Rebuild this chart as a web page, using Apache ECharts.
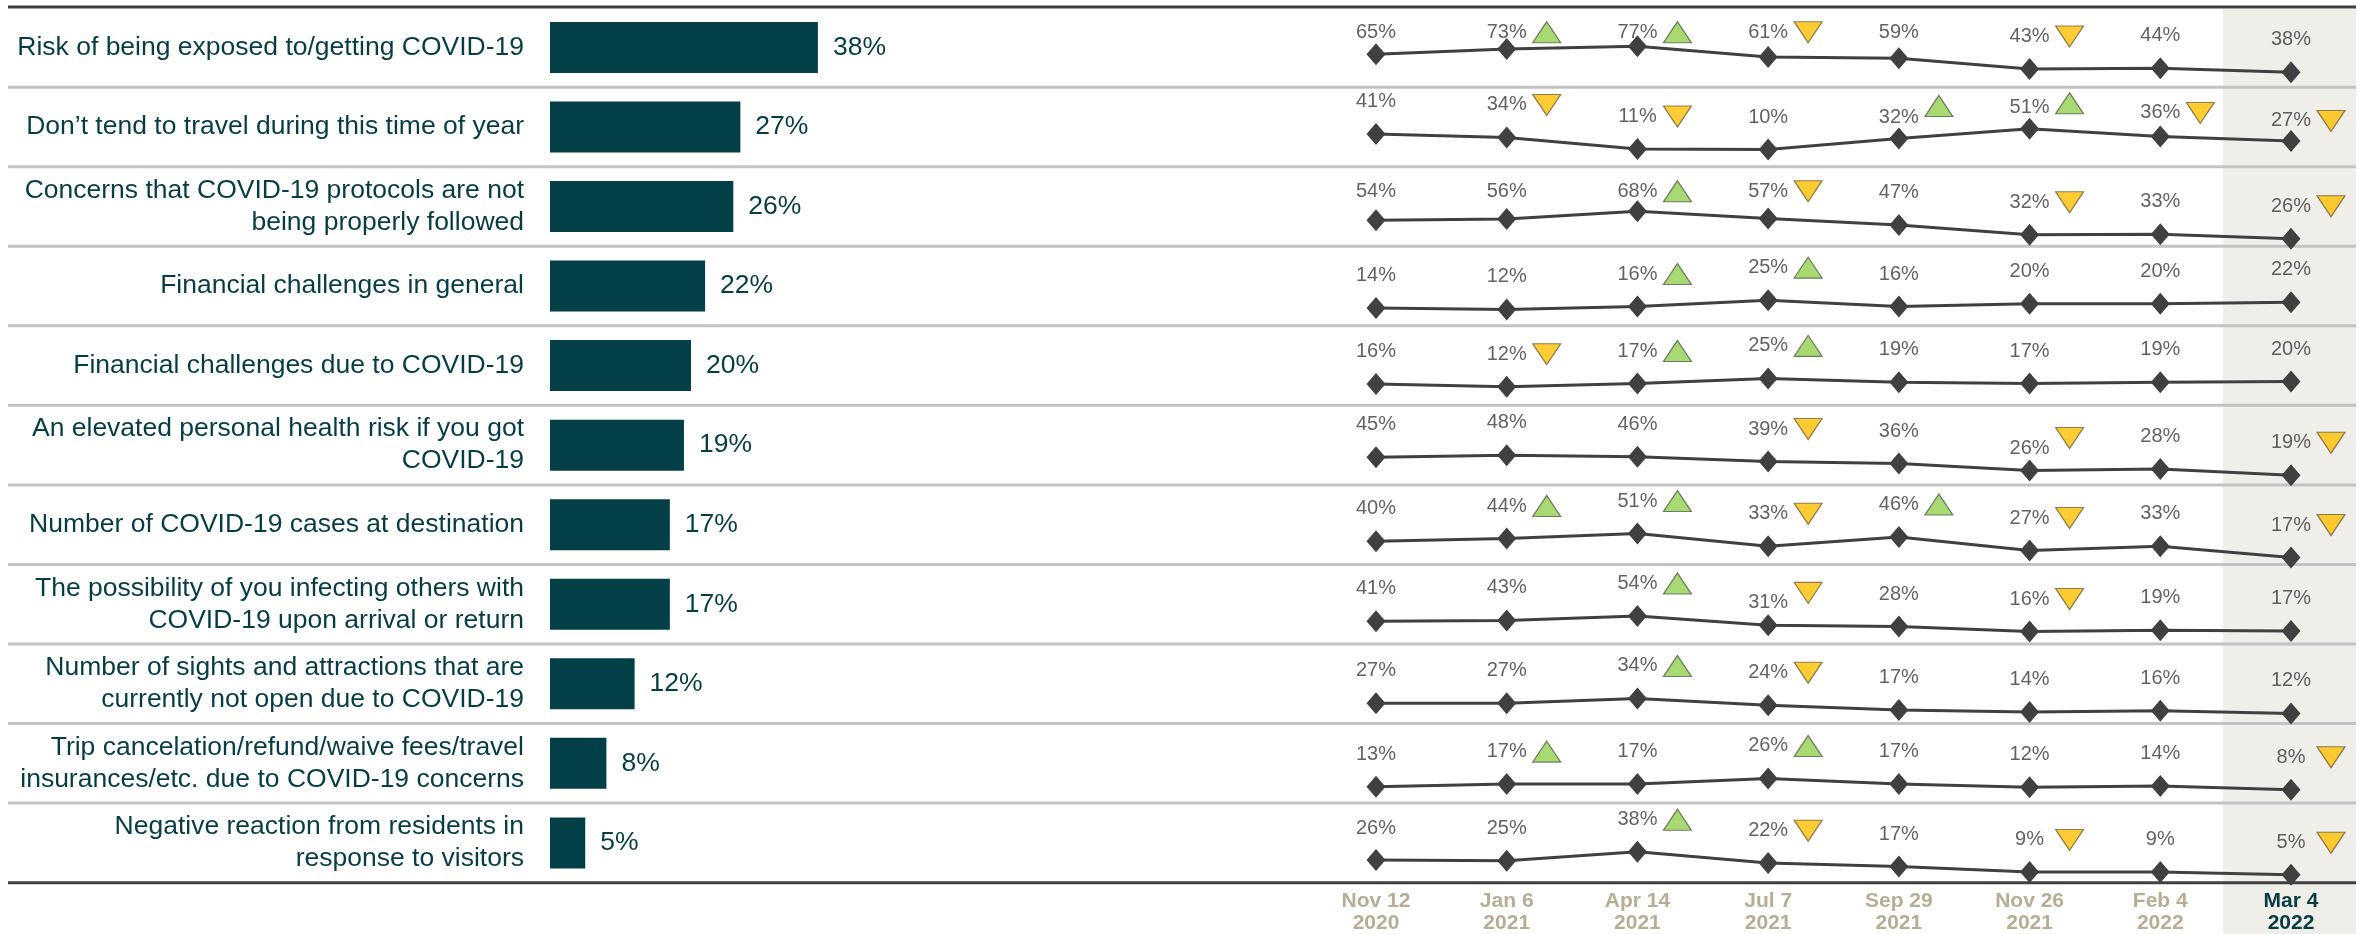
<!DOCTYPE html>
<html>
<head>
<meta charset="utf-8">
<script src="https://cdn.jsdelivr.net/npm/echarts@6/dist/echarts.min.js"></script>
<style>
  html, body { margin: 0; padding: 0; background: #fff; }
  #chart { width: 2362px; height: 934px; }
</style>
</head>
<body>
<div id="chart"></div>
<script>
// survey waves
const waves = ['Nov 12\n2020', 'Jan 6\n2021', 'Apr 14\n2021', 'Jul 7\n2021', 'Sep 29\n2021', 'Nov 26\n2021', 'Feb 4\n2022', 'Mar 4\n2022'];

const reasons = [
  'Risk of being exposed to/getting COVID-19',
  'Don\u2019t tend to travel during this time of year',
  'Concerns that COVID-19 protocols are not\nbeing properly followed',
  'Financial challenges in general',
  'Financial challenges due to COVID-19',
  'An elevated personal health risk if you got\nCOVID-19',
  'Number of COVID-19 cases at destination',
  'The possibility of you infecting others with\nCOVID-19 upon arrival or return',
  'Number of sights and attractions that are\ncurrently not open due to COVID-19',
  'Trip cancelation/refund/waive fees/travel\ninsurances/etc. due to COVID-19 concerns',
  'Negative reaction from residents in\nresponse to visitors'
];

// latest wave (Mar 4 2022), %
const latest = [38, 27, 26, 22, 20, 19, 17, 17, 12, 8, 5];

// trend per reason, one value per wave, %
const trend = [
  [65, 73, 77, 61, 59, 43, 44, 38],
  [41, 34, 11, 10, 32, 51, 36, 27],
  [54, 56, 68, 57, 47, 32, 33, 26],
  [14, 12, 16, 25, 16, 20, 20, 22],
  [16, 12, 17, 25, 19, 17, 19, 20],
  [45, 48, 46, 39, 36, 26, 28, 19],
  [40, 44, 51, 33, 46, 27, 33, 17],
  [41, 43, 54, 31, 28, 16, 19, 17],
  [27, 27, 34, 24, 17, 14, 16, 12],
  [13, 17, 17, 26, 17, 12, 14, 8],
  [26, 25, 38, 22, 17, 9, 9, 5]
];

// significant change vs previous wave: 1 = up, -1 = down, 0 = none
const change = [
  [0, 1, 1, -1, 0, -1, 0, 0],
  [0, -1, -1, 0, 1, 1, -1, -1],
  [0, 0, 1, -1, 0, -1, 0, -1],
  [0, 0, 1, 1, 0, 0, 0, 0],
  [0, -1, 1, 1, 0, 0, 0, 0],
  [0, 0, 0, -1, 0, -1, 0, -1],
  [0, 1, 1, -1, 1, -1, 0, -1],
  [0, 0, 1, -1, 0, -1, 0, 0],
  [0, 0, 1, -1, 0, 0, 0, 0],
  [0, 1, 0, 1, 0, 0, 0, -1],
  [0, 0, 1, -1, 0, -1, 0, -1]
];

// ---- layout ----
const FONT = "'Liberation Sans', Arial, sans-serif";
const TEAL = '#073c44';
const ROW_TOP = 7.6;
const ROW_H = 79.55;
const LIFT = 32.5;           // px between a point and its label
const TRI_DX = 40;           // px from point to the change marker
// each sparkline has its own vertical scale (as in the source)
const rowRange = [[15.7, 135], [-24, 133.6], [14.6, 135.7], [-10.9, 100.4], [-17.3, 107.5],
  [5.1, 120.4], [7.2, 120], [-14.5, 179.7], [-2.9, 114.2], [-13, 112.7], [-4.7, 107.5]];
const labelCeil = [24.6, 0, 24.5, 0, 0, 0, 0, 0, 0, 0, 0];
// hand-moved labels / markers in the source (px down)
const labelNudge = { '1-4': 11.5, '1-5': 11.5, '1-6': 9, '1-7': 12.5, '5-5': 10.8, '7-3': 9.2 };
const markerNudge = { '1-5': 7, '1-6': 9, '1-7': 12.5 };

const chart = echarts.init(document.getElementById('chart'));

const grids = [{ left: 550, top: ROW_TOP, width: 705, height: ROW_H * 11 }];
const xAxes = [{ type: 'value', gridIndex: 0, min: 0, max: 100, show: false }];
const yAxes = [{
  type: 'category', gridIndex: 0, data: reasons, inverse: true,
  axisLine: { show: false }, axisTick: { show: false },
  axisLabel: { fontSize: 26.5, lineHeight: 32, color: TEAL, fontFamily: FONT, margin: 26 }
}];
const series = [{
  type: 'bar', xAxisIndex: 0, yAxisIndex: 0, data: latest, barWidth: 51,
  itemStyle: { color: '#033f46' },
  label: { show: true, position: 'right', distance: 15, formatter: '{c}%', fontSize: 26.5, color: TEAL, fontFamily: FONT }
}];

trend.forEach((vals, r) => {
  const [mn, mx] = rowRange[r];
  const ppu = ROW_H / (mx - mn);
  const ceilV = mx - labelCeil[r] / ppu;
  const idx = r + 1;
  grids.push({ left: 1376, width: 915, top: ROW_TOP + r * ROW_H, height: ROW_H });
  xAxes.push({
    type: 'category', gridIndex: idx, data: waves, boundaryGap: false,
    axisLine: { show: false }, axisTick: { show: false }, splitLine: { show: false },
    axisLabel: r === trend.length - 1 ? {
      show: true, interval: 0, margin: 8.4, fontSize: 21, lineHeight: 22, fontWeight: 'bold', fontFamily: FONT,
      color: (v, i) => i === waves.length - 1 ? TEAL : '#b7ad95'
    } : { show: false }
  });
  yAxes.push({ type: 'value', gridIndex: idx, min: mn, max: mx, show: false });

  series.push({
    type: 'line', xAxisIndex: idx, yAxisIndex: idx, data: vals,
    symbol: 'diamond', symbolSize: [19, 22], showAllSymbol: true,
    itemStyle: { color: '#404040' }, lineStyle: { color: '#404040', width: 3 }, z: 3
  });
  series.push({
    type: 'scatter', xAxisIndex: idx, yAxisIndex: idx, clip: false, symbolSize: 1,
    itemStyle: { color: 'transparent' },
    data: vals.map((v, i) => [i, Math.min(v + (LIFT - (labelNudge[r + '-' + i] || 0)) / ppu, ceilV), v]),
    label: { show: true, position: 'inside', formatter: p => p.value[2] + '%', fontSize: 20, color: '#3a3a3a', fontFamily: FONT },
    z: 4
  });
  const markers = (dir) => vals.map((v, i) => change[r][i] === dir
    ? [i, Math.min(v + (LIFT - (markerNudge[r + '-' + i] || 0)) / ppu, ceilV)] : null).filter(d => d);
  series.push({
    type: 'scatter', xAxisIndex: idx, yAxisIndex: idx, clip: false, data: markers(1),
    symbol: 'triangle', symbolSize: [28, 21], symbolOffset: [TRI_DX, 0],
    itemStyle: { color: '#92d050', borderColor: '#55604c', borderWidth: 1.2 }, z: 4
  });
  series.push({
    type: 'scatter', xAxisIndex: idx, yAxisIndex: idx, clip: false, data: markers(-1),
    symbol: 'triangle', symbolRotate: 180, symbolSize: [28, 21], symbolOffset: [TRI_DX, 0],
    itemStyle: { color: '#ffc000', borderColor: '#6e6240', borderWidth: 1.2 }, z: 4
  });
});

// row rules and the shaded latest-wave column
const graphic = [{
  type: 'rect', shape: { x: 2223, y: 9, width: 133, height: 925 }, style: { fill: '#efeee9' }, z: 0
}];
for (let k = 1; k < reasons.length; k++) {
  const y = ROW_TOP + k * ROW_H;
  graphic.push({ type: 'line', shape: { x1: 8, y1: y, x2: 2356, y2: y }, style: { stroke: '#c3c3c3', lineWidth: 3 }, z: 1 });
}
[ROW_TOP - 0.5, ROW_TOP + reasons.length * ROW_H].forEach(y => {
  graphic.push({ type: 'line', shape: { x1: 8, y1: y, x2: 2356, y2: y }, style: { stroke: '#404040', lineWidth: 3 }, z: 1 });
});

chart.setOption({
  animation: false,
  grid: grids,
  xAxis: xAxes,
  yAxis: yAxes,
  graphic: graphic,
  series: series
});
</script>
</body>
</html>
